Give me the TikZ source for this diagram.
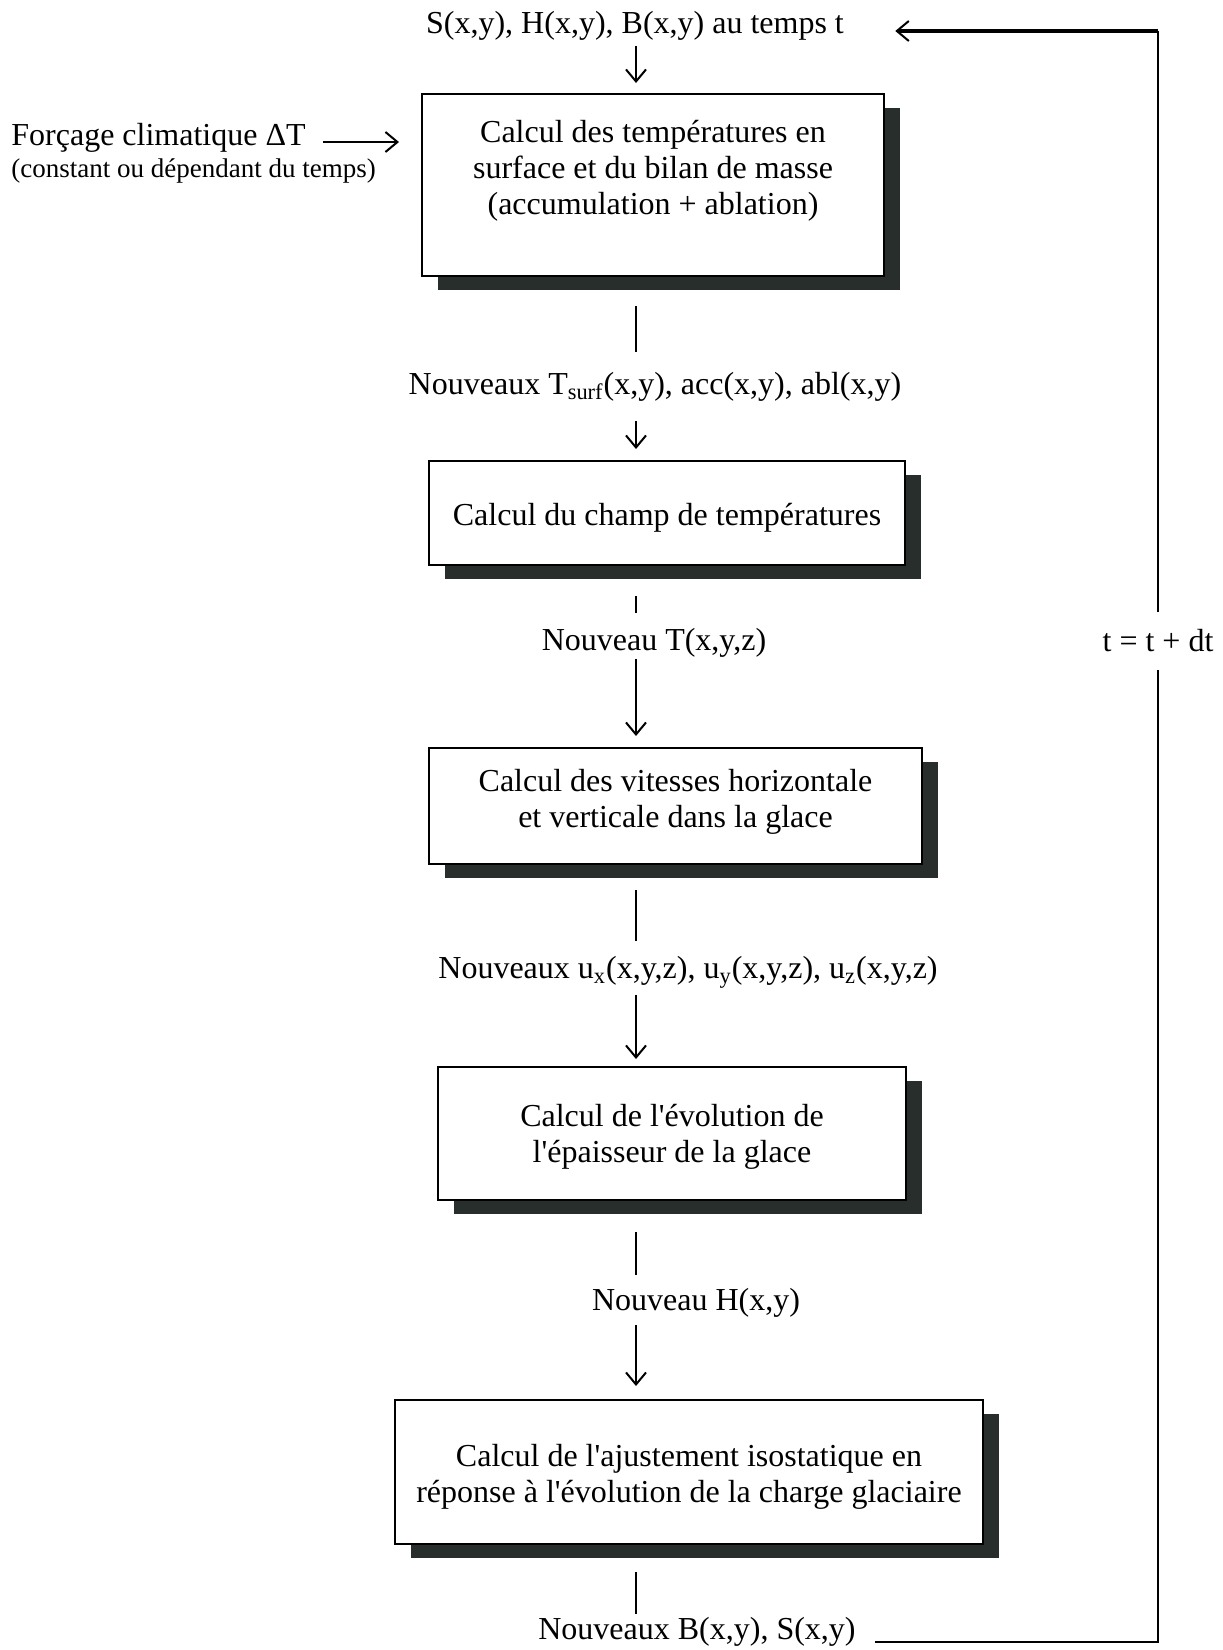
\documentclass[tikz,border=0pt]{standalone}
\usepackage{fontspec}
\setmainfont{Liberation Serif}[Ligatures=TeXOff]
\usepackage{tikz}
\usepackage{xcolor}
\usetikzlibrary{calc, arrows.meta, shadows}
\definecolor{shadow_gray}{RGB}{40,46,44}

\begin{document}
\begin{tikzpicture}[x=0.5pt,y=-0.5pt,
    >={Straight Barb[length=6pt,width=10pt,line width=1pt]},
    txt/.style={inner sep=0pt,font=\fontsize{16}{18}\selectfont},
    small/.style={inner sep=0pt,font=\fontsize{13.5}{15}\selectfont},
    procbox/.style={draw,line width=1pt,fill=white,align=center,inner sep=0pt,
        font=\fontsize{16}{18}\selectfont,
        drop shadow={shadow xshift=8pt,shadow yshift=-7pt,fill=shadow_gray,opacity=1}},
    flow/.style={line width=0.9pt}]
            \useasboundingbox (0,0) rectangle (1222,1650);
            \coordinate (ax) at (636,0); %流れの軸
            %テキスト
            \node[txt] (t0) at (635,26) {S(x,y), H(x,y), B(x,y) au temps t};
            \node[txt] (t1) at (655,387) {Nouveaux T\textsubscript{surf}(x,y), acc(x,y), abl(x,y)};
            \node[txt] (t2) at (654,643) {Nouveau T(x,y,z)};
            \node[txt] (t3) at (688,972) {Nouveaux u\textsubscript{x}(x,y,z), u\textsubscript{y}(x,y,z), u\textsubscript{z}(x,y,z)};
            \node[txt] (t4) at (696,1303) {Nouveau H(x,y)};
            \node[txt] (t5) at (697,1632) {Nouveaux B(x,y), S(x,y)};
            \node[txt,anchor=west] (f1) at (11,138) {Forçage climatique ΔT};
            \node[small,anchor=west] (f2) at (11,171) {(constant ou dépendant du temps)};
            %ボックス
            \node[procbox,minimum width=231pt,minimum height=91pt] (b1) at (653,185)
                {Calcul des températures en\\surface et du bilan de masse\\(accumulation + ablation)\\\mbox{}};
            \node[procbox,minimum width=238pt,minimum height=52pt] (b2) at (667,513)
                {\rule{0pt}{16pt}Calcul du champ de températures};
            \node[procbox,minimum width=246.5pt,minimum height=58pt] (b3) at (675.5,806)
                {Calcul des vitesses horizontale\\et verticale dans la glace\rule[-7.5pt]{0pt}{7.5pt}};
            \node[procbox,minimum width=234pt,minimum height=66.5pt] (b4) at (672,1133.5)
                {\rule{0pt}{14.7pt}Calcul de l'évolution de\\l'épaisseur de la glace};
            \node[procbox,minimum width=294pt,minimum height=72pt] (b5) at (689,1472)
                {\rule{0pt}{15.9pt}Calcul de l'ajustement isostatique en\\réponse à l'évolution de la charge glaciaire};
            %矢印と線
            \draw[flow,->,shorten <=2.5pt,shorten >=5pt] (t0.south -| ax) -- (b1.north -| ax);
            \draw[flow,shorten <=14.5pt,shorten >=10pt] (b1.south -| ax) -- (t1.north -| ax);
            \draw[flow,->,shorten <=9.5pt,shorten >=5.5pt] (t1.south -| ax) -- (b2.north -| ax);
            \draw[flow,shorten <=15pt,shorten >=7.5pt] (b2.south -| ax) -- (t2.north -| ax);
            \draw[flow,->,shorten <=0.5pt,shorten >=5.5pt] (t2.south -| ax) -- (b3.north -| ax);
            \draw[flow,shorten <=12.5pt,shorten >=7.5pt] (b3.south -| ax) -- (t3.north -| ax);
            \draw[flow,->,shorten <=3pt,shorten >=3.5pt] (t3.south -| ax) -- (b4.north -| ax);
            \draw[flow,shorten <=15.5pt,shorten >=6.5pt] (b4.south -| ax) -- (t4.north -| ax);
            \draw[flow,->,shorten <=3.5pt,shorten >=6.5pt] (t4.south -| ax) -- (b5.north -| ax);
            \draw[flow,shorten <=13.5pt,shorten >=1.5pt] (b5.south -| ax) -- (t5.north -| ax);
            %強制
            \coordinate (fa) at ([yshift=-2pt]f1.east);
            \draw[flow,line width=1.2pt,->,shorten <=8.5pt,shorten >=11pt] (fa) -- (fa -| b1.west);
            %フィードバック
            \coordinate (c1) at (1158,1642);
            \coordinate (c2) at (1158,31);
            \node[txt,inner ysep=8.5pt] (dt) at (1158,641) {t = t + dt};
            \draw[flow,shorten <=9.5pt] (t5.east |- c1) -- (c1) -- (dt);
            \draw[flow] (dt) -- (c2);
            \draw[flow,line width=1.6pt,->,shorten >=25.5pt] (c2) -- (c2 -| t0.east);
        \end{tikzpicture}
\end{document}
